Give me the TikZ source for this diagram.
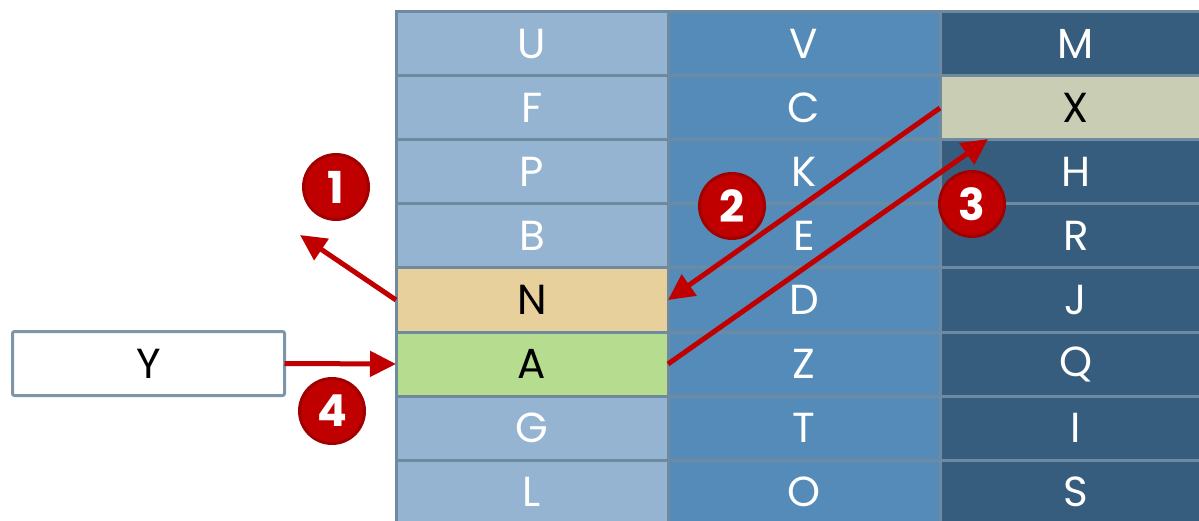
\documentclass[tikz,border=0pt]{standalone}
\usepackage{fontspec}
\setmainfont{Poppins}
\usetikzlibrary{arrows.meta}

\definecolor{lightcol}{HTML}{95B4D1}
\definecolor{midcol}{HTML}{548BB9}
\definecolor{darkcol}{HTML}{365D7E}
\definecolor{gridline}{HTML}{6E8AA0}
\definecolor{sandcol}{HTML}{E8D09C}
\definecolor{greencol}{HTML}{B6DC8F}
\definecolor{greycol}{HTML}{C8CDB4}
\definecolor{badgered}{HTML}{C00000}
\definecolor{badgedark}{HTML}{A00000}

\begin{document}
\begin{tikzpicture}[x=1pt, y=-1pt,
  cell/.style={draw=gridline, line width=3pt, rectangle, minimum width=272pt, minimum height=64pt,
    outer sep=0pt, inner sep=0pt, text=white, font=\fontsize{42}{48}\selectfont},
  c1/.style={cell, fill=lightcol},
  c2/.style={cell, fill=midcol},
  c3/.style={cell, fill=darkcol},
  badge/.style={circle, fill=badgered, draw=badgedark, line width=3pt, minimum size=65pt,
    inner sep=0pt, text=white, font=\fontsize{44}{48}\selectfont\bfseries},
  redarrow/.style={draw=badgered, line width=5pt, -{Triangle[length=26pt, width=25pt]}}]
  \path[use as bounding box, clip] (0,0) rectangle (1199,521);

  % first column
  \node[c1] (u) at (532,44) {U};
  \node[c1] (f) at (532,108) {F};
  \node[c1] (p) at (532,172) {P};
  \node[c1] (b) at (532,236) {B};
  \node[c1, fill=sandcol, text=black] (n) at (532,300) {N};
  \node[c1, fill=greencol, text=black] (a) at (532,364) {A};
  \node[c1] (g) at (532,428) {G};
  \node[c1] (l) at (532,492) {L};

  % second column
  \node[c2] (v) at (804,44) {V};
  \node[c2] (c) at (804,108) {C};
  \node[c2] (k) at (804,172) {K};
  \node[c2] (e) at (804,236) {E};
  \node[c2] (d) at (804,300) {D};
  \node[c2] (z) at (804,364) {Z};
  \node[c2] (t) at (804,428) {T};
  \node[c2] (o) at (804,492) {O};

  % third column
  \node[c3] (m) at (1076,44) {M};
  \node[c3, fill=greycol, text=black] (x) at (1076,108) {X};
  \node[c3] (h) at (1076,172) {H};
  \node[c3] (r) at (1076,236) {R};
  \node[c3] (j) at (1076,300) {J};
  \node[c3] (q) at (1076,364) {Q};
  \node[c3] (i) at (1076,428) {I};
  \node[c3] (s) at (1076,492) {S};

  \node[cell, fill=white, text=black, rounded corners=2pt, minimum width=272pt, minimum height=64pt,
    draw=gridline!90!white] (y) at (148.5,363.5) {Y};

  \coordinate (out1) at (300,235);
  \coordinate (out3) at (988,139);

  \draw[redarrow] (n.west) -- (out1);
  \draw[redarrow] (x.west) -- (n.east);
  \draw[redarrow] (a.east) -- (out3);
  \draw[redarrow] (y.east) -- (a.west);

  \node[badge] (b1) at (336,187) {1};
  \node[badge] (b2) at (732,206) {2};
  \node[badge] (b3) at (972,204) {3};
  \node[badge] (b4) at (332,411) {4};
\end{tikzpicture}
\end{document}
